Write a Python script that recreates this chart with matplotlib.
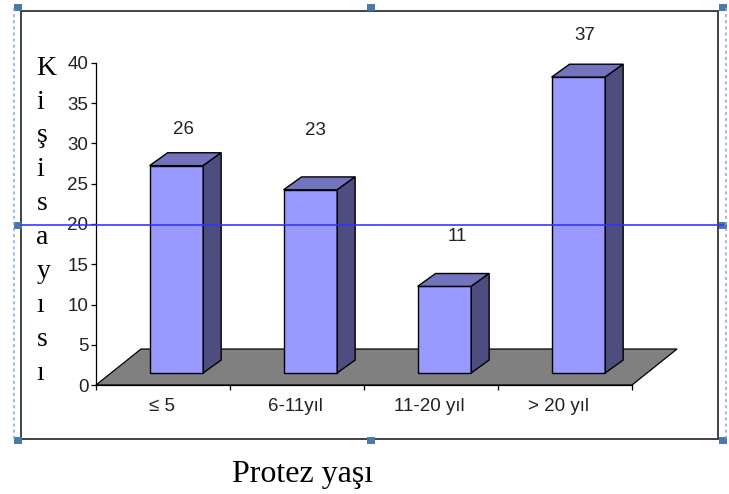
import matplotlib
matplotlib.use("Agg")
import matplotlib.pyplot as plt
from matplotlib.patches import Polygon, Rectangle

categories = ['≤ 5', '6-11yıl', '11-20 yıl', '> 20 yıl']
values = [26, 23, 11, 37]
y_ticks = [0, 5, 10, 15, 20, 25, 30, 35, 40]
ylabel_text = "K\ni\nş\ni\ns\na\ny\nı\ns\nı"
xlabel_text = "Protez yaşı"

# fake 3d look, in data units
bar_start = 0.40
bar_width = 0.40
bar_lift = 1.5
top_lift = 1.25
bar_dx = 0.134
bar_dy = 1.6
floor_dx = 0.336
floor_dy = 4.47
cat_label_pos = [0.49, 1.485, 2.49, 3.45]
label_x = [0.65, 0.64, 0.70, 0.65]
label_gap = [5.8, 8.6, 7.4, 6.4]

W, H = 729, 494
fig = plt.figure(figsize=(W / 100, H / 100), dpi=100)
sans = 'Liberation Sans'
serif = 'Liberation Serif'

ax = fig.add_axes([96 / W, (H - 385) / H, 536 / W, 322 / H])
ax.set_xlim(0, 4)
ax.set_ylim(0, 40)
ax.patch.set_visible(False)
ax.spines['top'].set_visible(False)
ax.spines['right'].set_visible(False)
ax.spines['left'].set_linewidth(0.9)
ax.spines['bottom'].set_linewidth(0.9)
ax.spines['left'].set_zorder(5)
ax.spines['bottom'].set_zorder(5)

ax.set_yticks(y_ticks)
ax.tick_params(axis='y', length=3.5, width=0.9, pad=2, labelsize=13.5, labelcolor='#222222')
ax.set_xticks(range(5))
ax.set_xticklabels([])
ax.set_xticks(cat_label_pos, labels=categories, minor=True)
ax.tick_params(axis='x', which='major', length=3.5, width=0.9)
ax.tick_params(axis='x', which='minor', length=0, pad=9, labelsize=13.5, labelcolor='#222222')
for t in ax.get_xticklabels(minor=True) + ax.get_yticklabels():
    t.set_family(sans)

# floor
ax.add_patch(Polygon([(0, 0), (4, 0), (4 + floor_dx, floor_dy), (floor_dx, floor_dy)],
                     facecolor='#808080', edgecolor='black', lw=0.9, clip_on=False, zorder=1))

for i, v in enumerate(values):
    x0 = i + bar_start
    x1 = x0 + bar_width
    y0 = bar_lift
    y1 = v + top_lift
    ax.add_patch(Rectangle((x0, y0), bar_width, y1 - y0, facecolor='#9999ff',
                           edgecolor='black', lw=1, clip_on=False, zorder=3))
    ax.add_patch(Polygon([(x0, y1), (x1, y1), (x1 + bar_dx, y1 + bar_dy), (x0 + bar_dx, y1 + bar_dy)],
                         facecolor='#7373bd', edgecolor='black', lw=1, clip_on=False, zorder=3))
    ax.add_patch(Polygon([(x1, y0), (x1 + bar_dx, y0 + bar_dy), (x1 + bar_dx, y1 + bar_dy), (x1, y1)],
                         facecolor='#4d4d80', edgecolor='black', lw=1, clip_on=False, zorder=3))
    ax.text(i + label_x[i], v + label_gap[i], str(v), ha='center', va='center',
            family=sans, fontsize=13.5, color='#222222', clip_on=False)

# overlay in pixels for the frame and selection handles
over = fig.add_axes([0, 0, 1, 1], zorder=10)
over.set_xlim(0, W)
over.set_ylim(H, 0)
over.axis('off')
over.patch.set_visible(False)

over.add_patch(Rectangle((21.5, 11.5), 697, 427, fill=False, edgecolor='#333333', lw=1.3))
over.plot([21, 723], [225, 225], color='#3333ff', lw=1.3, alpha=0.9)
over.plot([14.5, 14.5], [8, 440], color='#7aa8e8', lw=1.1, ls=(0, (2, 2)))
over.plot([726.5, 726.5], [8, 440], color='#7aa8e8', lw=1.1, ls=(0, (2, 2)))
handles_x = [18, 371, 723]
handles_y = [8, 225, 440]
for hx in handles_x:
    for hy in handles_y:
        if hx == 371 and hy == 225:
            continue
        over.add_patch(Rectangle((hx - 4, hy - 3.5), 8, 7, facecolor='#4a78ad', edgecolor='none'))

over.text(36.5, 380, ylabel_text, ha='left', va='baseline', multialignment='left',
          family=serif, fontsize=20, linespacing=1.47, color='black')
over.text(303, 474, xlabel_text, ha='center', va='center', family=serif, fontsize=23, color='black')

fig.savefig('out.png', dpi=100)
